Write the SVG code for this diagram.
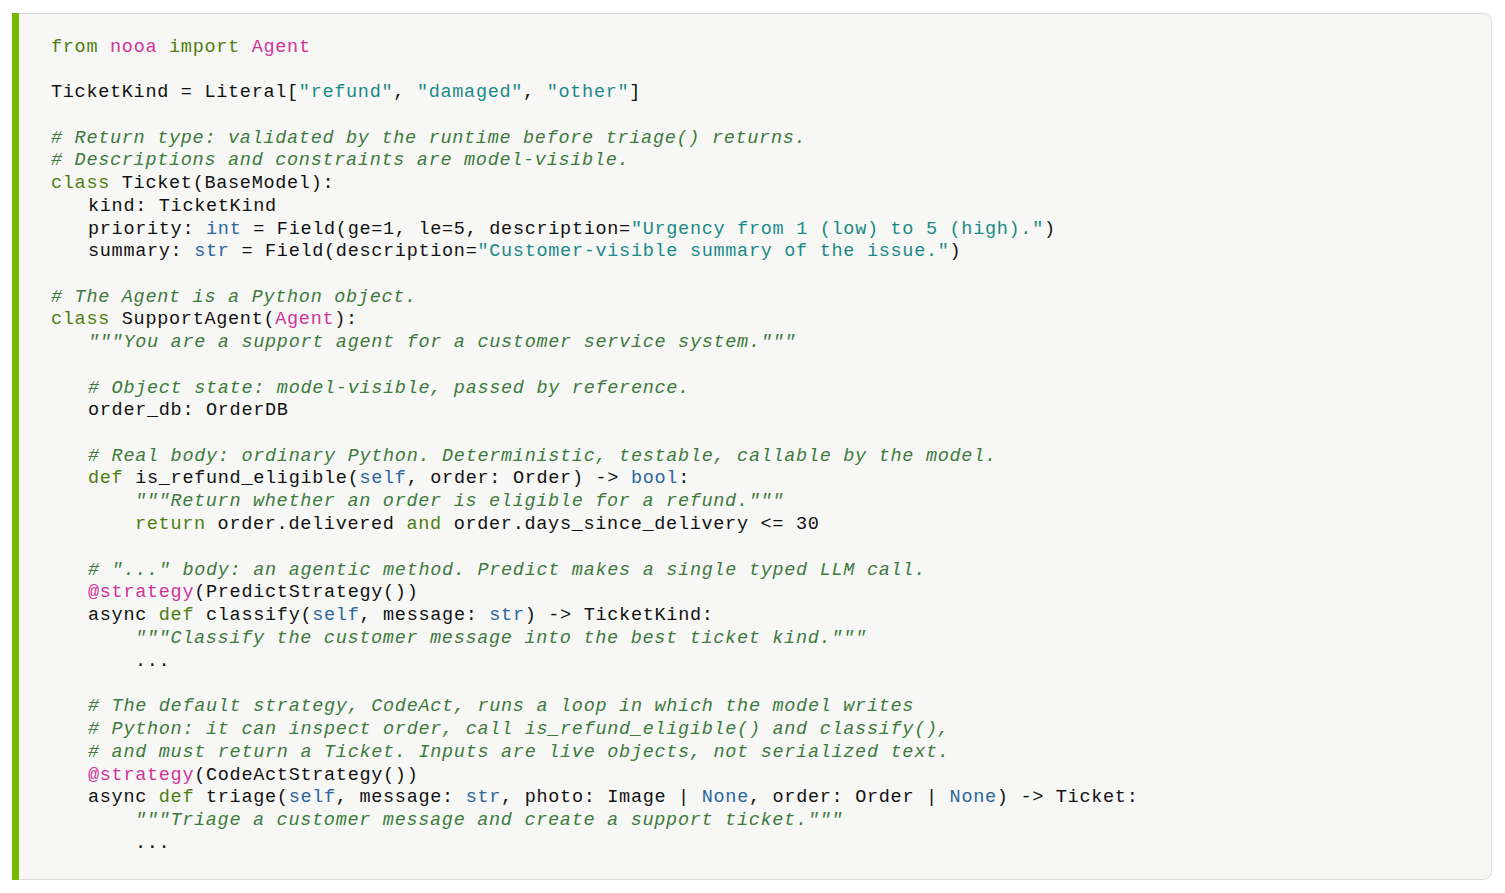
<svg xmlns="http://www.w3.org/2000/svg" width="1505" height="893" viewBox="0 0 1505 893" xml:space="preserve">
<style>
text{font-family:"Liberation Mono","DejaVu Sans Mono",monospace;font-size:18.5px;letter-spacing:0.7px;fill:#111}
.k{fill:#4e7d0e}.m{fill:#d0339a}.s{fill:#1a8a86}.b{fill:#2a65a0}
.c{fill:#3d7a3d;font-style:italic}
</style>
<g id="panel">
<rect x="12.5" y="13.5" width="1479" height="866" rx="8" fill="#f7f7f5" stroke="#dcdcdc"/>
<rect x="12" y="13" width="7" height="867" fill="#76b900"/>
</g>
<g id="code">
<text x="51" y="52"><tspan class="k">from</tspan> <tspan class="m">nooa</tspan> <tspan class="k">import</tspan> <tspan class="m">Agent</tspan></text>
<text x="51" y="97">TicketKind = Literal[<tspan class="s">"refund"</tspan>, <tspan class="s">"damaged"</tspan>, <tspan class="s">"other"</tspan>]</text>
<text x="51" y="143" class="c"># Return type: validated by the runtime before triage() returns.</text>
<text x="51" y="165" class="c"># Descriptions and constraints are model-visible.</text>
<text x="51" y="188"><tspan class="k">class</tspan> Ticket(BaseModel):</text>
<text x="88" y="211">kind: TicketKind</text>
<text x="88" y="234">priority: <tspan class="b">int</tspan> = Field(ge=1, le=5, description=<tspan class="s">"Urgency from 1 (low) to 5 (high)."</tspan>)</text>
<text x="88" y="256">summary: <tspan class="b">str</tspan> = Field(description=<tspan class="s">"Customer-visible summary of the issue."</tspan>)</text>
<text x="51" y="302" class="c"># The Agent is a Python object.</text>
<text x="51" y="324"><tspan class="k">class</tspan> SupportAgent(<tspan class="m">Agent</tspan>):</text>
<text x="88" y="347" class="c">"""You are a support agent for a customer service system."""</text>
<text x="88" y="393" class="c"># Object state: model-visible, passed by reference.</text>
<text x="88" y="415">order_db: OrderDB</text>
<text x="88" y="461" class="c"># Real body: ordinary Python. Deterministic, testable, callable by the model.</text>
<text x="88" y="483"><tspan class="k">def</tspan> is_refund_eligible(<tspan class="b">self</tspan>, order: Order) -&gt; <tspan class="b">bool</tspan>:</text>
<text x="135" y="506" class="c">"""Return whether an order is eligible for a refund."""</text>
<text x="135" y="529"><tspan class="k">return</tspan> order.delivered <tspan class="k">and</tspan> order.days_since_delivery &lt;= 30</text>
<text x="88" y="575" class="c"># "..." body: an agentic method. Predict makes a single typed LLM call.</text>
<text x="88" y="597"><tspan class="m">@strategy</tspan>(PredictStrategy())</text>
<text x="88" y="620">async <tspan class="k">def</tspan> classify(<tspan class="b">self</tspan>, message: <tspan class="b">str</tspan>) -&gt; TicketKind:</text>
<text x="135" y="643" class="c">"""Classify the customer message into the best ticket kind."""</text>
<text x="135" y="666">...</text>
<text x="88" y="711" class="c"># The default strategy, CodeAct, runs a loop in which the model writes</text>
<text x="88" y="734" class="c"># Python: it can inspect order, call is_refund_eligible() and classify(),</text>
<text x="88" y="757" class="c"># and must return a Ticket. Inputs are live objects, not serialized text.</text>
<text x="88" y="780"><tspan class="m">@strategy</tspan>(CodeActStrategy())</text>
<text x="88" y="802">async <tspan class="k">def</tspan> triage(<tspan class="b">self</tspan>, message: <tspan class="b">str</tspan>, photo: Image | <tspan class="b">None</tspan>, order: Order | <tspan class="b">None</tspan>) -&gt; Ticket:</text>
<text x="135" y="825" class="c">"""Triage a customer message and create a support ticket."""</text>
<text x="135" y="848">...</text>
</g>
</svg>
